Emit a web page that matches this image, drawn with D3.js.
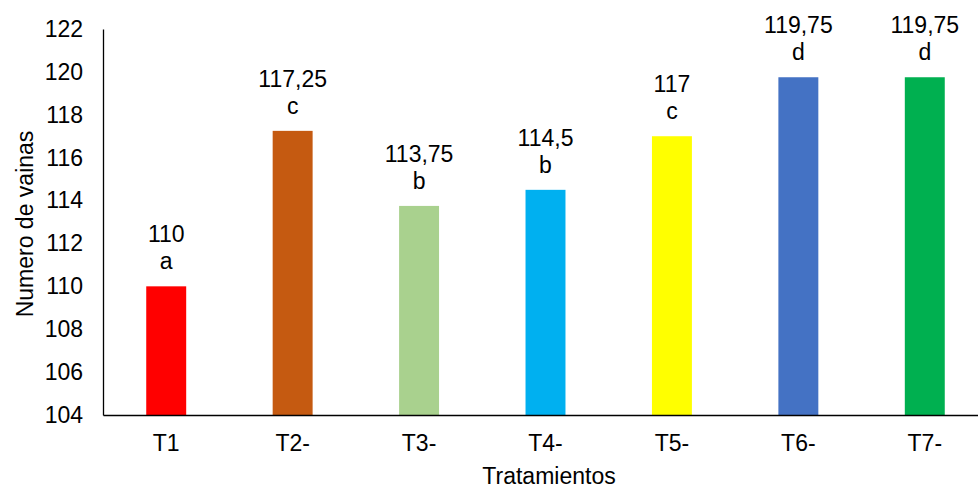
<!DOCTYPE html>
<html>
<head>
<meta charset="utf-8">
<script src="https://cdn.jsdelivr.net/npm/d3@7"></script>
<style>
  html, body { margin: 0; padding: 0; background: #fff; }
  text { font-family: "Liberation Sans", Arial, sans-serif; fill: #000; }
</style>
</head>
<body>
<svg id="chart" width="978" height="489"></svg>
<script>
// Treatments, mean pod counts and significance letters
const categories = ["T1", "T2-", "T3-", "T4-", "T5-", "T6-", "T7-"];
const values = [110, 117.25, 113.75, 114.5, 117, 119.75, 119.75];
const valueLabels = ["110", "117,25", "113,75", "114,5", "117", "119,75", "119,75"];
const letters = ["a", "c", "b", "b", "c", "d", "d"];
const colors = ["#ff0000", "#c55a11", "#a9d18e", "#00b0f0", "#ffff00", "#4472c4", "#00b050"];
const yTicks = [104, 106, 108, 110, 112, 114, 116, 118, 120, 122];

const FONT = 23;
const svg = d3.select("#chart");
const margin = { left: 103, right: -10, top: 29, bottom: 74 };
const W = 978, H = 489;

const x = d3.scaleBand()
  .domain(categories)
  .range([margin.left, W - margin.right])
  .paddingInner(0.684)
  .paddingOuter(0.342);

const y = d3.scaleLinear()
  .domain([104, 122])
  .range([H - margin.bottom, margin.top]);

// Bars
svg.append("g").selectAll("rect")
  .data(values)
  .join("rect")
  .attr("x", (d, i) => x(categories[i]))
  .attr("width", x.bandwidth())
  .attr("y", d => y(d))
  .attr("height", d => y(104) - y(d))
  .attr("fill", (d, i) => colors[i]);

// Value and letter labels
const lbl = svg.append("g").selectAll("g")
  .data(values)
  .join("g")
  .attr("transform", (d, i) => `translate(${x(categories[i]) + x.bandwidth() / 2},${y(d)})`);
lbl.append("text")
  .attr("text-anchor", "middle")
  .attr("y", -44)
  .attr("font-size", FONT)
  .text((d, i) => valueLabels[i]);
lbl.append("text")
  .attr("text-anchor", "middle")
  .attr("y", -17)
  .attr("font-size", FONT)
  .text((d, i) => letters[i]);

// Y axis
const yAxis = svg.append("g")
  .attr("transform", `translate(${margin.left},0)`)
  .call(d3.axisLeft(y).tickValues(yTicks).tickSize(0).tickPadding(20).tickFormat(d3.format("d")));
yAxis.select(".domain").attr("stroke", "#000").attr("stroke-width", 1.3);
yAxis.selectAll("text").attr("font-size", FONT).attr("font-family", "Liberation Sans, Arial, sans-serif");

// X axis
const xAxis = svg.append("g")
  .attr("transform", `translate(0,${y(104)})`)
  .call(d3.axisBottom(x).tickSize(0).tickPadding(20));
xAxis.select(".domain").attr("stroke", "#000").attr("stroke-width", 1.3);
xAxis.selectAll("text").attr("font-size", FONT).attr("font-family", "Liberation Sans, Arial, sans-serif");

// Axis titles
svg.append("text")
  .attr("x", 549)
  .attr("y", 484)
  .attr("text-anchor", "middle")
  .attr("font-size", FONT)
  .text("Tratamientos");

svg.append("text")
  .attr("transform", `translate(33,${(margin.top + H - margin.bottom) / 2 + 2}) rotate(-90)`)
  .attr("text-anchor", "middle")
  .attr("font-size", FONT)
  .text("Numero de vainas");
</script>
</body>
</html>
